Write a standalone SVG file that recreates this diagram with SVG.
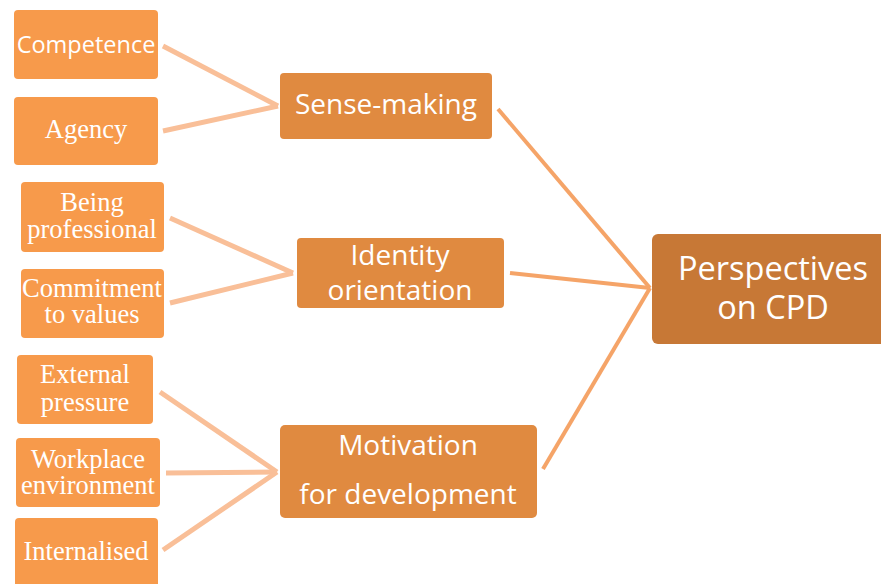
<svg xmlns="http://www.w3.org/2000/svg" width="881" height="584" viewBox="0 0 881 584">
<style>
.leaf{fill:#F79A4B}
.mid{fill:#E08A40}
.root{fill:#C77836}
.serif{font-family:"Liberation Serif","Times New Roman",serif;font-size:26.5px;fill:#fff;text-anchor:middle}
.sans{font-family:"Open Sans","Liberation Sans",sans-serif;fill:#fff;text-anchor:middle}
.m{font-size:28px}
.lc{stroke:#F9BF98;stroke-width:5;fill:none}
.mc{stroke:#F5A468;stroke-width:4;fill:none}
</style>
<rect width="881" height="584" fill="#fff"/>
<g id="connectors">
<line class="lc" x1="163" y1="46" x2="278" y2="106"/>
<line class="lc" x1="163" y1="131" x2="278" y2="106"/>
<line class="lc" x1="170" y1="218" x2="293" y2="273"/>
<line class="lc" x1="170" y1="303" x2="293" y2="273"/>
<line class="lc" x1="160" y1="392" x2="277" y2="472"/>
<line class="lc" x1="166" y1="473" x2="277" y2="472"/>
<line class="lc" x1="163" y1="550" x2="277" y2="472"/>
<line class="mc" x1="498" y1="109" x2="650" y2="288"/>
<line class="mc" x1="510" y1="273" x2="650" y2="288"/>
<line class="mc" x1="543" y1="469" x2="650" y2="288"/>
</g>
<g id="competence"><rect class="leaf" x="14" y="10" width="144" height="69" rx="4"/><text class="sans" x="86" y="53" font-size="23.5">Competence</text></g>
<g id="agency"><rect class="leaf" x="14" y="97" width="144" height="68" rx="4"/><text class="serif" x="86" y="138">Agency</text></g>
<g id="being-professional"><rect class="leaf" x="21" y="182" width="143" height="70" rx="4"/><text class="serif" x="92" y="211">Being</text><text class="serif" x="92" y="238">professional</text></g>
<g id="commitment"><rect class="leaf" x="21" y="269" width="143" height="69" rx="4"/><text class="serif" x="92" y="297">Commitment</text><text class="serif" x="92" y="323">to values</text></g>
<g id="external-pressure"><rect class="leaf" x="17" y="355" width="136" height="69" rx="4"/><text class="serif" x="85" y="383">External</text><text class="serif" x="85" y="411">pressure</text></g>
<g id="workplace-environment"><rect class="leaf" x="16" y="438" width="144" height="69" rx="4"/><text class="serif" x="88" y="468">Workplace</text><text class="serif" x="88" y="494">environment</text></g>
<g id="internalised"><rect class="leaf" x="15" y="518" width="143" height="75" rx="4"/><text class="serif" x="86" y="560">Internalised</text></g>
<g id="sense-making"><rect class="mid" x="280" y="73" width="212" height="66" rx="4"/><text class="sans m" x="386" y="114">Sense-making</text></g>
<g id="identity-orientation"><rect class="mid" x="297" y="238" width="207" height="70" rx="4"/><text class="sans m" x="400" y="265">Identity</text><text class="sans m" x="400" y="300">orientation</text></g>
<g id="motivation"><rect class="mid" x="280" y="425" width="257" height="93" rx="5"/><text class="sans m" x="408" y="455">Motivation</text><text class="sans m" x="408" y="504">for development</text></g>
<g id="perspectives"><rect class="root" x="652" y="234" width="236" height="110" rx="6"/><text class="sans" x="773" y="280" font-size="32.5">Perspectives</text><text class="sans" x="773" y="319" font-size="32.5">on CPD</text></g>
</svg>
